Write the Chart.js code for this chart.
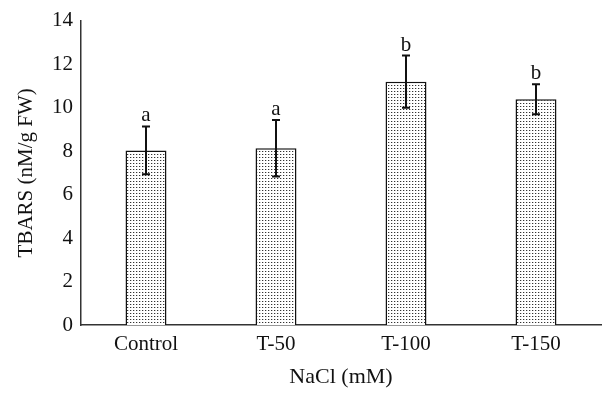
<!DOCTYPE html>
<html><head><meta charset="utf-8">
<script src="https://cdn.jsdelivr.net/npm/chart.js@4"></script>
<style>html,body{margin:0;padding:0;background:#fff}#wrap{width:614px;height:401px}</style>
</head><body><div id="wrap"><canvas id="c" width="614" height="401"></canvas></div>
<script>
const categories = ["Control", "T-50", "T-100", "T-150"];
const tbars = [8.03, 8.13, 11.19, 10.38];
const errors = [1.1, 1.3, 1.2, 0.69];
const letters = ["a", "a", "b", "b"];
const yTicks = [0, 2, 4, 6, 8, 10, 12, 14];

const FONT = "'Liberation Serif', 'Times New Roman', serif";

function makePattern() {
  const p = document.createElement('canvas');
  p.width = 3; p.height = 3;
  const g = p.getContext('2d');
  g.fillStyle = '#ffffff'; g.fillRect(0, 0, 3, 3);
  g.fillStyle = '#333333'; g.fillRect(1, 1, 1, 1);
  g.fillStyle = '#c8c8c8'; g.fillRect(2, 1, 1, 1);
  return document.getElementById('c').getContext('2d').createPattern(p, 'repeat');
}

const errPlugin = {
  id: 'errbars',
  afterDatasetsDraw(chart) {
    const ctx = chart.ctx;
    const meta = chart.getDatasetMeta(0);
    const ys = chart.scales.y;
    ctx.save();
    ctx.strokeStyle = '#111';
    ctx.lineWidth = 2;
    meta.data.forEach((bar, i) => {
      const x = bar.x;
      const hi = ys.getPixelForValue(tbars[i] + errors[i]);
      const lo = ys.getPixelForValue(tbars[i] - errors[i]);
      ctx.beginPath();
      ctx.moveTo(x, hi); ctx.lineTo(x, lo);
      ctx.moveTo(x - 4, hi); ctx.lineTo(x + 4, hi);
      ctx.moveTo(x - 4, lo); ctx.lineTo(x + 4, lo);
      ctx.stroke();
      ctx.fillStyle = '#111';
      ctx.font = '21px ' + FONT;
      ctx.textAlign = 'center';
      ctx.textBaseline = 'alphabetic';
      ctx.fillText(letters[i], x, hi - 5);
    });
    ctx.restore();
  }
};

new Chart(document.getElementById('c'), {
  type: 'bar',
  data: {
    labels: categories,
    datasets: [{
      data: tbars,
      backgroundColor: makePattern(),
      borderColor: '#111',
      borderWidth: 1.5,
      barPercentage: 0.315,
      categoryPercentage: 1.0
    }]
  },
  options: {
    responsive: false,
    animation: false,
    devicePixelRatio: 1,
    layout: { padding: { top: 20, right: 13, left: 0, bottom: 0 } },
    plugins: { legend: { display: false }, tooltip: { enabled: false } },
    scales: {
      x: {
        grid: { display: false, drawTicks: false },
        border: { display: true, color: '#333', width: 1.5 },
        ticks: { color: '#111', font: { family: FONT, size: 21 }, padding: 7 },
        title: { display: true, text: 'NaCl (mM)', color: '#111', font: { family: FONT, size: 22 }, padding: { top: 4, bottom: 11 } },
        afterFit(s) { s.height = 76; }
      },
      y: {
        min: 0, max: 14,
        afterBuildTicks(s) { s.ticks = yTicks.map(v => ({ value: v })); },
        grid: { display: false, drawTicks: false },
        border: { display: true, color: '#333', width: 1.5 },
        ticks: { color: '#111', font: { family: FONT, size: 21 }, padding: 8 },
        title: { display: true, text: 'TBARS (nM/g FW)', color: '#111', font: { family: FONT, size: 21 }, padding: { top: 14, bottom: 8 } },
        afterFit(s) { s.width = 81; }
      }
    }
  },
  plugins: [errPlugin]
});
</script>
</body></html>
